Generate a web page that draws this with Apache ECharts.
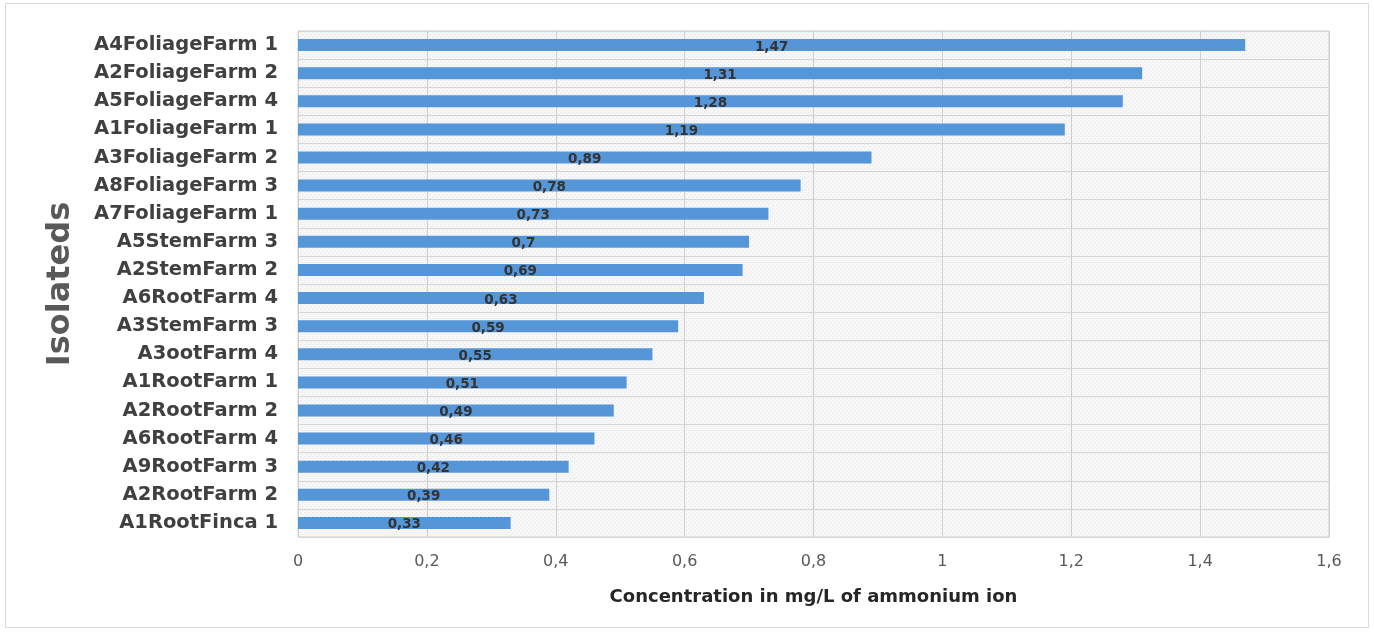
<!DOCTYPE html>
<html>
<head>
<meta charset="utf-8">
<script src="https://cdn.jsdelivr.net/npm/echarts@6/dist/echarts.min.js"></script>
<style>html,body{margin:0;padding:0;background:#fff}#c{width:1374px;height:632px}</style>
</head>
<body>
<div id="c"></div>
<script>
const categories = ["A4FoliageFarm 1","A2FoliageFarm 2","A5FoliageFarm 4","A1FoliageFarm 1","A3FoliageFarm 2","A8FoliageFarm 3","A7FoliageFarm 1","A5StemFarm 3","A2StemFarm 2","A6RootFarm 4","A3StemFarm 3","A3ootFarm 4","A1RootFarm 1","A2RootFarm 2","A6RootFarm 4","A9RootFarm 3","A2RootFarm 2","A1RootFinca 1"];
const values = [1.47,1.31,1.28,1.19,0.89,0.78,0.73,0.7,0.69,0.63,0.59,0.55,0.51,0.49,0.46,0.42,0.39,0.33];
const xTicks = [0,0.2,0.4,0.6,0.8,1,1.2,1.4,1.6];

const pc = document.createElement('canvas');
pc.width = 4; pc.height = 4;
const g = pc.getContext('2d');
g.fillStyle = '#f7f7f7'; g.fillRect(0,0,4,4);
g.fillStyle = '#e4e4e4';
g.fillRect(0,0,1,1); g.fillRect(2,2,1,1);

const FF = 'DejaVu Sans, Verdana, sans-serif';
const chart = echarts.init(document.getElementById('c'));
const fmt = v => String(v).replace('.', ',');
chart.setOption({
  animation: false,
  graphic: [{type:'rect', shape:{x:5.5,y:3.5,width:1363,height:624}, style:{fill:'none', stroke:'#d9d9d9', lineWidth:1}, z:-10}],
  grid: {left:298, right:45, top:31, bottom:95, show:true, backgroundColor:{image:pc, repeat:'repeat'}, borderColor:'#d0d0d0', borderWidth:1},
  xAxis: {
    type:'value', min:xTicks[0], max:xTicks[xTicks.length-1], interval:0.2,
    axisLine:{show:false}, axisTick:{show:false},
    splitLine:{show:true, lineStyle:{color:'#cfcfcf', width:1}},
    axisLabel:{color:'#595959', fontSize:16, fontFamily:FF, margin:17, formatter: v => fmt(+v.toFixed(1))},
    name:'Concentration in mg/L of ammonium ion', nameLocation:'middle', nameGap:51,
    nameTextStyle:{color:'#262626', fontSize:18, fontWeight:'bold', fontFamily:FF}
  },
  yAxis: {
    type:'category', data:categories, inverse:true,
    axisLine:{show:false}, axisTick:{show:false},
    splitLine:{show:true, lineStyle:{color:'#d6d6d6', width:1}},
    axisLabel:{color:'#404040', fontSize:19.5, fontWeight:'bold', fontFamily:FF, margin:20},
    name:'Isolateds', nameLocation:'middle', nameGap:221, nameRotate:90,
    nameTextStyle:{color:'#595959', fontSize:32, fontWeight:'bold', fontFamily:FF}
  },
  series: [{
    type:'bar', data:values, barWidth:12,
    itemStyle:{color:'#5596d9'},
    label:{show:true, position:'inside', color:'#333', fontSize:13.5, fontWeight:'bold', fontFamily:FF, offset:[0,2], formatter: p => fmt(p.value)}
  }]
});
</script>
</body>
</html>
